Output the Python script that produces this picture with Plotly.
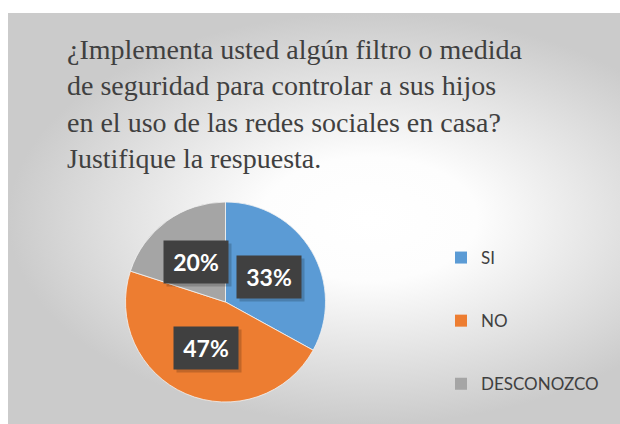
import numpy as np
import plotly.graph_objs as go

# data
labels = ['SI', 'NO', 'DESCONOZCO']
values = [33, 47, 20]
colors = ['#5B9BD5', '#ED7D31', '#A5A5A5']

title_text = ('¿Implementa usted algún filtro o medida<br>'
              'de seguridad para controlar a sus hijos<br>'
              'en el uso de las redes sociales en casa?<br>'
              'Justifique la respuesta.')

W, H = 620, 424
# pie placement (pixels)
cx, cy, R = 225.5, 302, 100

fig = go.Figure()

## background frame with radial gradient
fig.add_trace(go.Scatter(
    x=[8, 730, 730, 8, 8], y=[0, 0, 411, 411, 0],
    mode='lines', fill='toself', line=dict(width=0),
    fillgradient=dict(type='radial',
                      colorscale=[[0, '#ffffff'], [0.3, '#fdfdfd'], [1, '#cbcbcb']]),
    hoverinfo='skip', showlegend=False))

fig.add_trace(go.Pie(
    labels=labels, values=values, sort=False, direction='clockwise', rotation=0,
    marker=dict(colors=colors, line=dict(color='#f2f2f2', width=0.8)),
    textinfo='none', showlegend=False, hoverinfo='label+percent',
    domain=dict(x=[(cx - R) / W, (cx + R) / W], y=[1 - (cy + R) / H, 1 - (cy - R) / H])))

## legend entries
for lab, col in zip(labels, colors):
    fig.add_trace(go.Scatter(x=[None], y=[None], mode='markers', name=lab,
                             legendgroup=lab,
                             marker=dict(symbol='square', size=12, color=col)))

## data labels at half radius
total = sum(values)
cum = np.cumsum([0] + values[:-1])
for v, c0 in zip(values, cum):
    ang = 2 * np.pi * (c0 + v / 2) / total
    px = cx + 0.5 * R * np.sin(ang)
    py = cy - 0.5 * R * np.cos(ang)
    txt = '<b>%d%%</b>' % round(100 * v / total)
    # shadow box
    fig.add_annotation(x=(px + 3) / W, y=1 - (py + 3) / H, xref='paper', yref='paper',
                       xanchor='center', yanchor='middle',
                       text='&nbsp;', showarrow=False, width=60, height=38, borderpad=2,
                       bgcolor='rgba(0,0,0,0.18)', font=dict(size=23, family='Lato'))
    fig.add_annotation(x=px / W, y=1 - py / H, xref='paper', yref='paper',
                       xanchor='center', yanchor='middle',
                       text=txt, showarrow=False, width=60, height=38, borderpad=2,
                       bgcolor='#404040', font=dict(color='white', size=23, family='Lato'))

## legend box
fig.add_shape(type='rect', xref='paper', yref='paper',
              x0=431 / W, x1=617 / W, y0=1 - 415 / H, y1=1 - 224 / H,
              fillcolor='rgba(255,255,255,0.4)', line=dict(width=0), layer='below')

fig.update_layout(
    width=W, height=H,
    margin=dict(l=0, r=0, t=0, b=0),
    paper_bgcolor='white', plot_bgcolor='rgba(0,0,0,0)',
    title=dict(text=title_text, x=67 / W, xanchor='left', y=1 - 59 / H, yanchor='top',
               font=dict(family='Liberation Serif', size=28, color='#404040')),
    xaxis=dict(range=[0, W], domain=[0, 1], visible=False, fixedrange=True),
    yaxis=dict(range=[0, H], domain=[0, 1], visible=False, fixedrange=True),
    legend=dict(x=441 / W, y=1 - 240 / H, xanchor='left', yanchor='top',
                font=dict(family='Lato', size=17, color='#404040'),
                bgcolor='rgba(0,0,0,0)', tracegroupgap=38, itemwidth=30),
)

fig.write_html("out.html", config={'displayModeBar': False},
               post_script="document.body.style.margin='0px';")
